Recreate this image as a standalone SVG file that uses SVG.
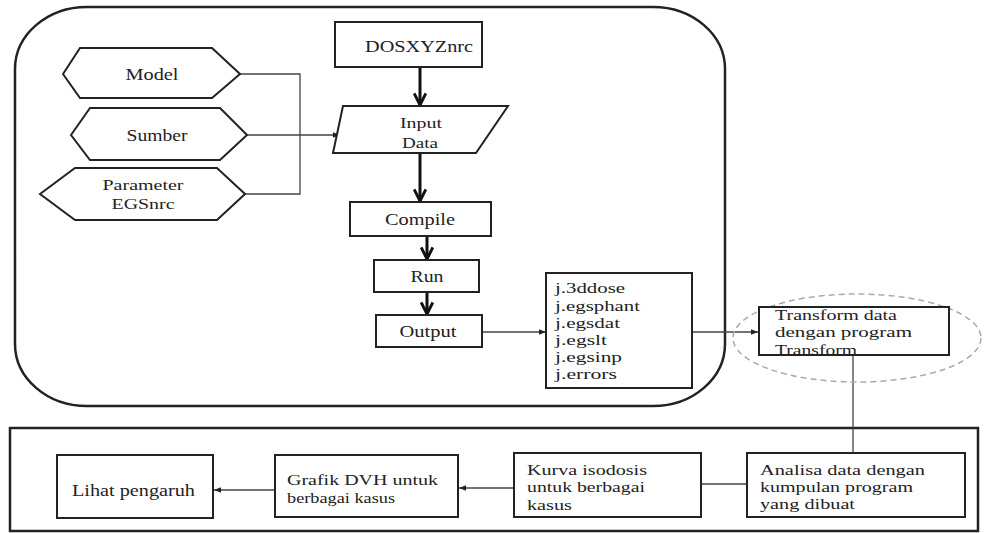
<svg xmlns="http://www.w3.org/2000/svg" width="986" height="533" viewBox="0 0 986 533">
<defs>
<style>
.t{font-family:"Liberation Serif","Times New Roman",serif;font-size:17px;fill:#222}
.s{font-size:14.5px}
.p{font-size:15px}
.m{text-anchor:middle}
.box{fill:#fff;stroke:#222;stroke-width:2}
.frame{fill:none;stroke:#222;stroke-width:2.5}
.thin{fill:none;stroke:#444;stroke-width:1.3}
.thick{fill:none;stroke:#111;stroke-width:3}
</style>
<marker id="tri" viewBox="0 0 10 10" refX="10" refY="5" markerWidth="7" markerHeight="7" orient="auto" markerUnits="userSpaceOnUse">
<path d="M0,1 L10,5 L0,9 Z" fill="#222"/>
</marker>
<marker id="chev" viewBox="0 0 12 12" refX="11" refY="6" markerWidth="14" markerHeight="14" orient="auto" markerUnits="userSpaceOnUse">
<path d="M1,1 L11,6 L1,11" fill="none" stroke="#111" stroke-width="2.5"/>
</marker>
</defs>
<rect width="986" height="533" fill="#fff"/>

<g id="frame-top"><rect class="frame" x="15" y="7" width="710" height="399" rx="72" ry="62"/></g>
<g id="frame-bottom"><rect class="frame" x="10" y="428" width="968" height="103"/></g>

<g id="connectors">
<polyline class="thin" points="240,74 300,74 300,194 245,194"/>
<line class="thin" x1="247" y1="135" x2="340" y2="135" marker-end="url(#tri)"/>
<line class="thick" x1="420" y1="67" x2="420" y2="105" marker-end="url(#chev)"/>
<line class="thick" x1="420" y1="153" x2="420" y2="201" marker-end="url(#chev)"/>
<line class="thick" x1="427" y1="236" x2="427" y2="259" marker-end="url(#chev)"/>
<line class="thick" x1="427" y1="292" x2="427" y2="314" marker-end="url(#chev)"/>
<line class="thin" x1="482" y1="332" x2="546" y2="332" marker-end="url(#tri)"/>
<line class="thin" x1="692" y1="332" x2="758" y2="332" marker-end="url(#tri)"/>
<line class="thin" x1="853" y1="355" x2="853" y2="453"/>
<line class="thin" x1="747" y1="484" x2="701" y2="484"/>
<line class="thin" x1="514" y1="488" x2="459" y2="488" marker-end="url(#tri)"/>
<line class="thin" x1="275" y1="490" x2="214" y2="490" marker-end="url(#tri)"/>
</g>

<g id="model"><path class="box" d="M63,74 L80,48 L212,48 L240,74 L212,98 L80,98 Z"/><text class="t m" x="152" y="80" textLength="53" lengthAdjust="spacingAndGlyphs">Model</text></g>
<g id="sumber"><path class="box" d="M71,135 L90,108 L220,108 L247,135 L220,160 L90,160 Z"/><text class="t m" x="157" y="141" textLength="61" lengthAdjust="spacingAndGlyphs">Sumber</text></g>
<g id="parameter"><path class="box" d="M40,194 L75,168 L217,168 L245,194 L217,220 L75,220 Z"/><text class="t p m" x="143" y="190" textLength="81" lengthAdjust="spacingAndGlyphs">Parameter</text><text class="t p m" x="143" y="209" textLength="63" lengthAdjust="spacingAndGlyphs">EGSnrc</text></g>

<g id="dosxyz"><rect class="box" x="335" y="22" width="147" height="45"/><text class="t m" x="419" y="52" textLength="108" lengthAdjust="spacingAndGlyphs">DOSXYZnrc</text></g>
<g id="input"><path class="box" d="M343,106 L508,106 L476,153 L333,153 Z"/><text class="t p m" x="421" y="128" textLength="42" lengthAdjust="spacingAndGlyphs">Input</text><text class="t p m" x="420" y="148" textLength="36" lengthAdjust="spacingAndGlyphs">Data</text></g>
<g id="compile"><rect class="box" x="350" y="202" width="141" height="34"/><text class="t m" x="420" y="225" textLength="70" lengthAdjust="spacingAndGlyphs">Compile</text></g>
<g id="run"><rect class="box" x="374" y="260" width="105" height="32"/><text class="t m" x="427" y="282" textLength="33" lengthAdjust="spacingAndGlyphs">Run</text></g>
<g id="output"><rect class="box" x="376" y="315" width="106" height="32"/><text class="t m" x="428" y="337" textLength="57" lengthAdjust="spacingAndGlyphs">Output</text></g>

<g id="files"><rect class="box" x="546" y="273" width="146" height="115"/>
<text class="t s" x="555" y="293" textLength="70" lengthAdjust="spacingAndGlyphs">j.3ddose</text>
<text class="t s" x="555" y="311" textLength="85" lengthAdjust="spacingAndGlyphs">j.egsphant</text>
<text class="t s" x="555" y="328" textLength="65" lengthAdjust="spacingAndGlyphs">j.egsdat</text>
<text class="t s" x="555" y="345" textLength="52" lengthAdjust="spacingAndGlyphs">j.egslt</text>
<text class="t s" x="555" y="362" textLength="67" lengthAdjust="spacingAndGlyphs">j.egsinp</text>
<text class="t s" x="555" y="379" textLength="62" lengthAdjust="spacingAndGlyphs">j.errors</text>
</g>

<g id="transform">
<ellipse cx="857" cy="338" rx="124" ry="44" fill="none" stroke="#aaa" stroke-width="1.5" stroke-dasharray="6,4"/>
<rect class="box" x="759" y="307" width="190" height="48"/>
<text class="t s" x="775" y="320" textLength="122" lengthAdjust="spacingAndGlyphs">Transform data</text>
<text class="t s" x="775" y="337" textLength="137" lengthAdjust="spacingAndGlyphs">dengan program</text>
<text class="t s" x="775" y="355" textLength="82" lengthAdjust="spacingAndGlyphs">Transform</text>
</g>

<g id="analisa"><rect class="box" x="747" y="453" width="218" height="64"/>
<text class="t s" x="760" y="475" textLength="165" lengthAdjust="spacingAndGlyphs">Analisa data dengan</text>
<text class="t s" x="760" y="492" textLength="153" lengthAdjust="spacingAndGlyphs">kumpulan program</text>
<text class="t s" x="760" y="509" textLength="95" lengthAdjust="spacingAndGlyphs">yang dibuat</text>
</g>
<g id="kurva"><rect class="box" x="514" y="453" width="187" height="64"/>
<text class="t s" x="527" y="475" textLength="120" lengthAdjust="spacingAndGlyphs">Kurva isodosis</text>
<text class="t s" x="527" y="492" textLength="118" lengthAdjust="spacingAndGlyphs">untuk berbagai</text>
<text class="t s" x="527" y="510" textLength="45" lengthAdjust="spacingAndGlyphs">kasus</text>
</g>
<g id="grafik"><rect class="box" x="275" y="455" width="183" height="62"/>
<text class="t p" x="287" y="485" textLength="151" lengthAdjust="spacingAndGlyphs">Grafik DVH untuk</text>
<text class="t p" x="287" y="503" textLength="108" lengthAdjust="spacingAndGlyphs">berbagai kasus</text>
</g>
<g id="lihat"><rect class="box" x="57" y="455" width="156" height="63"/>
<text class="t" x="72" y="496" textLength="123" lengthAdjust="spacingAndGlyphs">Lihat pengaruh</text>
</g>
</svg>
